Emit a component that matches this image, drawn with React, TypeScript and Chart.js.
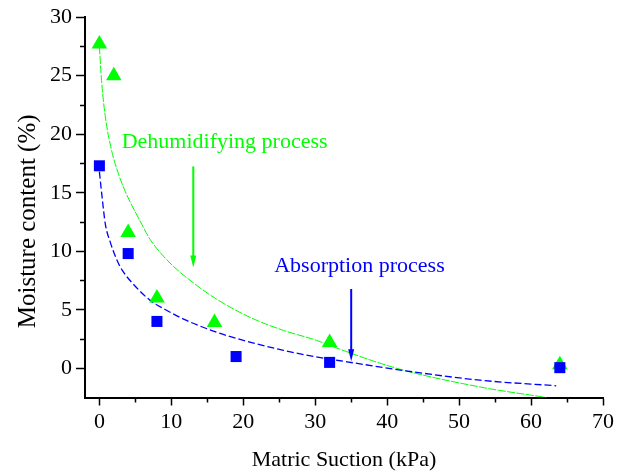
import React, { useEffect, useRef } from "react";
import { Chart, registerables } from "chart.js";

Chart.register(...registerables);

// Measured points
const suctionDehum = [0, 2, 4, 8, 16, 32, 64];
const moistureDehum = [27.7, 25.0, 11.6, 6.0, 3.9, 2.2, 0.3];
const suctionAbs = [0, 4, 8, 19, 32, 64];
const moistureAbs = [17.3, 9.8, 4.0, 1.0, 0.5, 0.05];

// Fitted curves
const fitDehumX = [0, 0.3, 0.8, 1.7, 2.6, 3.6, 5.9, 7.06, 9.8, 13.06, 16.3, 20.9, 25.6, 30.2, 32, 41.3, 52.9, 62.1];
const fitDehumY = [27.5, 24.6, 21.6, 18.6, 16.7, 15.1, 12.3, 11.0, 9.0, 7.3, 5.9, 4.36, 3.23, 2.38, 1.95, 0, -1.6, -2.5];
const fitAbsX = [0, 0.38, 0.83, 1.5, 2.4, 3.15, 4.7, 7.06, 9.2, 11.7, 16.3, 20.9, 25.6, 30, 34.4, 43.6, 52.9, 63.5];
const fitAbsY = [16.8, 14.6, 12.3, 10.8, 9.3, 8.4, 7.2, 5.8, 5.0, 4.2, 3.08, 2.23, 1.53, 0.98, 0.55, -0.31, -1.02, -1.5];

// Axis ticks
const xMajor = [0, 10, 20, 30, 40, 50, 60, 70];
const xMinor = [5, 15, 25, 35, 45, 55, 65];
const yMajor = [0, 5, 10, 15, 20, 25, 30];
const yMinor = [2.5, 7.5, 12.5, 17.5, 22.5, 27.5];

// Annotations (data coordinates)
const noteTexts = ["Dehumidifying process", "Absorption process"];
const noteX = [3.1, 24.3];
const noteY = [18.8, 8.24];
const arrowX = [13.05, 35];
const arrowFrom = [17.25, 6.77];
const arrowTo = [8.6, 0.6];

const GREEN = "#00FF00";
const BLUE = "#0000FF";
const FONT = "'Liberation Serif', 'Times New Roman', serif";

const toXY = (xs: number[], ys: number[]) => xs.map((x, i) => ({ x, y: ys[i] }));

const decorPlugin = {
  id: "decor",
  afterDatasetsDraw(chart: any) {
    const { ctx, scales } = chart;
    const xs = scales.x;
    const ys = scales.y;
    const colors = [GREEN, BLUE];
    ctx.save();
    for (let i = 0; i < noteTexts.length; i++) {
      ctx.fillStyle = colors[i];
      ctx.font = `22px ${FONT}`;
      ctx.textAlign = "left";
      ctx.textBaseline = "alphabetic";
      ctx.fillText(noteTexts[i], xs.getPixelForValue(noteX[i]), ys.getPixelForValue(noteY[i]));
      const px = xs.getPixelForValue(arrowX[i]);
      const y0 = ys.getPixelForValue(arrowFrom[i]);
      const y1 = ys.getPixelForValue(arrowTo[i]);
      const headH = 12;
      const headW = 3;
      ctx.strokeStyle = colors[i];
      ctx.lineWidth = 2;
      ctx.beginPath();
      ctx.moveTo(px, y0);
      ctx.lineTo(px, y1 - headH + 1);
      ctx.stroke();
      ctx.beginPath();
      ctx.moveTo(px - headW, y1 - headH);
      ctx.lineTo(px + headW, y1 - headH);
      ctx.lineTo(px, y1);
      ctx.closePath();
      ctx.fill();
    }
    ctx.restore();
  },
  afterDraw(chart: any) {
    const { ctx, scales, chartArea } = chart;
    const xs = scales.x;
    const ys = scales.y;
    ctx.save();
    ctx.strokeStyle = "#000";
    ctx.lineWidth = 1.5;
    ctx.beginPath();
    for (const v of xMinor) {
      const p = Math.round(xs.getPixelForValue(v)) + 0.5;
      ctx.moveTo(p, chartArea.bottom);
      ctx.lineTo(p, chartArea.bottom + 5);
    }
    for (const v of yMinor) {
      const p = Math.round(ys.getPixelForValue(v)) + 0.5;
      ctx.moveTo(chartArea.left, p);
      ctx.lineTo(chartArea.left - 5, p);
    }
    ctx.stroke();

    ctx.fillStyle = "#000";
    ctx.font = `22px ${FONT}`;
    ctx.textAlign = "center";
    ctx.textBaseline = "middle";
    ctx.fillText("Matric Suction (kPa)", (chartArea.left + chartArea.right) / 2, chartArea.bottom + 63);
    ctx.translate(chartArea.left - 57, (chartArea.top + chartArea.bottom) / 2 + 14);
    ctx.rotate(-Math.PI / 2);
    ctx.font = `25px ${FONT}`;
    ctx.fillText("Moisture content (%)", 0, 0);
    ctx.restore();
  },
};

export default function App() {
  const canvasRef = useRef<HTMLCanvasElement | null>(null);

  useEffect(() => {
    if (!canvasRef.current) return;
    const tickFont = { family: FONT, size: 22 };
    const chart = new Chart(canvasRef.current, {
      type: "scatter",
      data: {
        datasets: [
          {
            label: "Absorption",
            data: toXY(suctionAbs, moistureAbs),
            pointStyle: "rect",
            pointRadius: 7.8,
            backgroundColor: BLUE,
            borderColor: BLUE,
            borderWidth: 0,
            clip: false as any,
            order: 0,
          },
          {
            label: "Dehumidifying",
            data: toXY(suctionDehum, moistureDehum),
            pointStyle: "triangle",
            pointRadius: 9,
            backgroundColor: GREEN,
            borderColor: GREEN,
            borderWidth: 0,
            clip: false as any,
            order: 1,
          },
          {
            label: "Absorption fit",
            type: "line",
            data: toXY(fitAbsX, fitAbsY),
            showLine: true,
            pointRadius: 0,
            borderColor: BLUE,
            borderWidth: 1.3,
            borderDash: [7, 3],
            cubicInterpolationMode: "monotone",
            fill: false,
            order: 2,
          } as any,
          {
            label: "Dehumidifying fit",
            type: "line",
            data: toXY(fitDehumX, fitDehumY),
            showLine: true,
            pointRadius: 0,
            borderColor: GREEN,
            borderWidth: 1,
            borderDash: [8, 1.5],
            cubicInterpolationMode: "monotone",
            fill: false,
            order: 3,
          } as any,
        ],
      },
      options: {
        responsive: false,
        animation: false,
        layout: { padding: { top: 15, right: 23, left: 0, bottom: 0 } },
        plugins: {
          legend: { display: false },
          tooltip: { enabled: false },
        },
        scales: {
          x: {
            type: "linear",
            min: -2,
            max: 70,
            afterBuildTicks: (s: any) => {
              s.ticks = xMajor.map((v) => ({ value: v }));
            },
            afterFit: (s: any) => {
              s.height = 78.5;
            },
            ticks: { font: tickFont, color: "#000", padding: 4, maxRotation: 0, autoSkip: false },
            grid: { drawOnChartArea: false, drawTicks: true, tickLength: 8, tickWidth: 1.5, tickColor: "#000" },
            border: { display: true, color: "#000", width: 2 },
          },
          y: {
            type: "linear",
            min: -2.5,
            max: 30,
            afterBuildTicks: (s: any) => {
              s.ticks = yMajor.map((v) => ({ value: v }));
            },
            afterFit: (s: any) => {
              s.width = 85;
            },
            ticks: { font: tickFont, color: "#000", padding: 4, autoSkip: false },
            grid: { drawOnChartArea: false, drawTicks: true, tickLength: 9, tickWidth: 1.5, tickColor: "#000" },
            border: { display: true, color: "#000", width: 2 },
          },
        },
      },
      plugins: [decorPlugin],
    });
    return () => chart.destroy();
  }, []);

  return (
    <div style={{ position: "fixed", left: 0, top: 0, width: 626, height: 476, background: "#fff" }}>
      <canvas ref={canvasRef} width={626} height={476} style={{ display: "block" }} />
    </div>
  );
}
